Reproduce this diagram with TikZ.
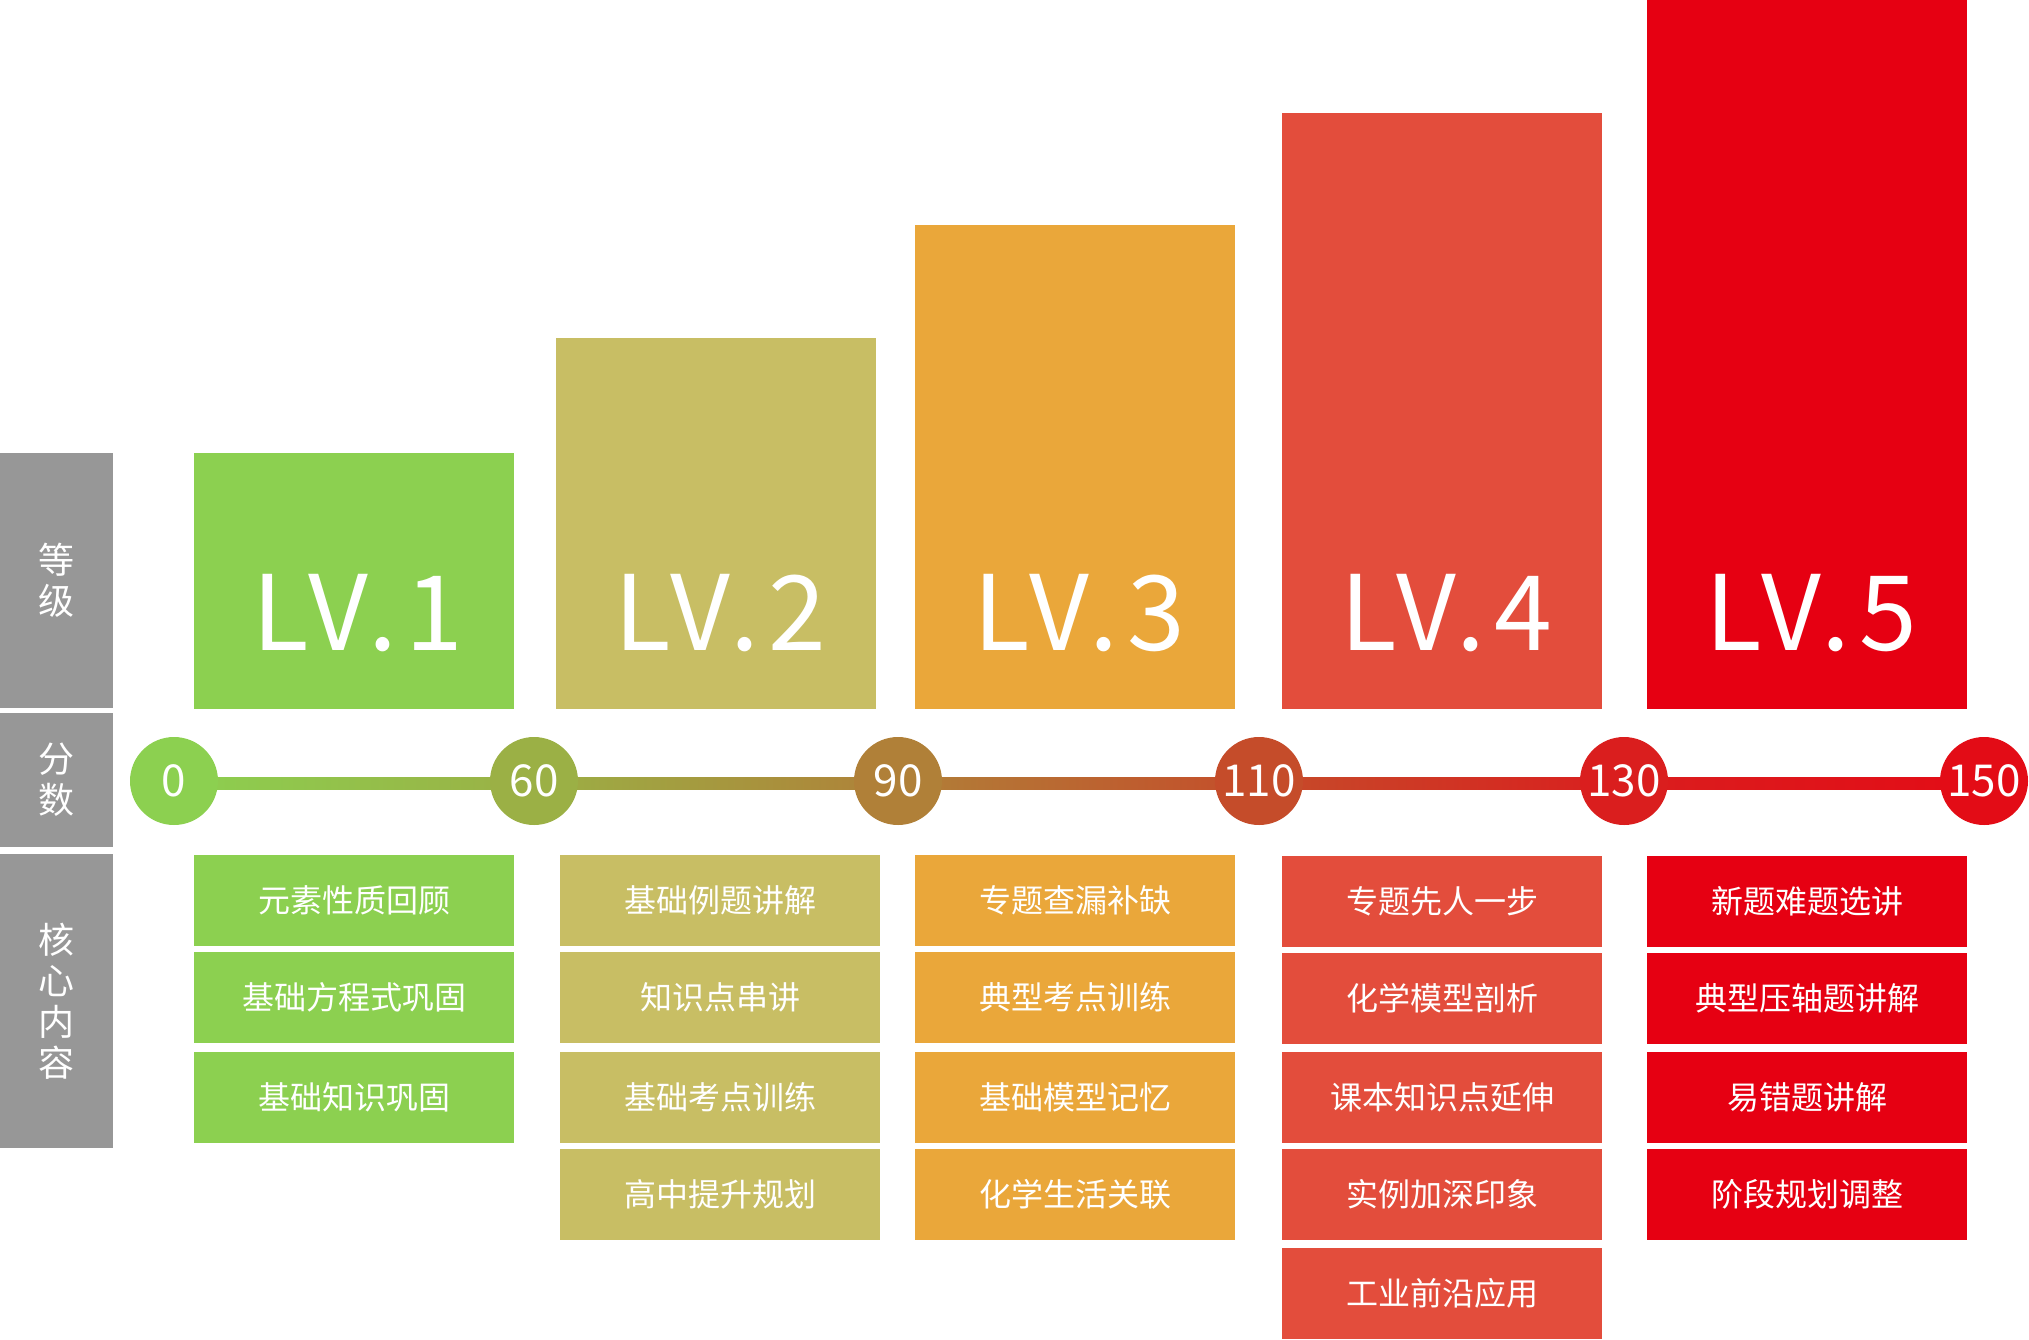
\documentclass[tikz,border=0pt]{standalone}
\usepackage{fontspec}
\newfontfamily\cjk{Noto Sans CJK SC}
\newfontfamily\cjklv[LetterSpace=8]{Noto Sans CJK SC}
\usetikzlibrary{backgrounds,calc}
\definecolor{cgray}{HTML}{979797}
\definecolor{cA}{HTML}{8CD050}
\definecolor{cB}{HTML}{C8BE64}
\definecolor{cC}{HTML}{EAA73A}
\definecolor{cD}{HTML}{E34D3C}
\definecolor{cE}{HTML}{E60012}
\definecolor{k0}{HTML}{8CD050}
\definecolor{k1}{HTML}{9BB045}
\definecolor{k2}{HTML}{B08038}
\definecolor{k3}{HTML}{C54C2A}
\definecolor{k4}{HTML}{DA1E1E}
\definecolor{k5}{HTML}{E30C16}
\begin{document}
\begin{tikzpicture}[x=1pt,y=-1pt,
  flatbox/.style={rectangle, inner sep=0pt, draw=none, minimum width=320pt},
  graybox/.style={rectangle, inner sep=0pt, draw=none, fill=cgray, minimum width=113pt,
    text=white, align=center, font={\cjk\fontsize{36}{41}\selectfont}},
  lvtext/.style={anchor=base, inner sep=0pt, text=white, font={\cjklv\fontsize{104}{110}\selectfont}},
  itembox/.style={rectangle, inner sep=0pt, draw=none, minimum width=320pt, minimum height=91pt,
    text=white, font={\cjk\fontsize{32}{38}\selectfont}},
  score/.style={circle, inner sep=0pt, minimum size=88pt, draw=none, text=white,
    font={\cjk\fontsize{44}{50}\selectfont}}]
\useasboundingbox (0,0) rectangle (2029,1339);

% left labels
\node[graybox, minimum height=255pt] (g1) at (56.5,580.5) {等\\级};
\node[graybox, minimum height=134pt] (g2) at (56.5,780) {分\\数};
\node[graybox, minimum height=294pt] (g3) at (56.5,1001) {核\\心\\内\\容};

% level boxes
\node[flatbox, fill=cA, minimum height=256pt] (lv1) at (354,581) {};
\node[flatbox, fill=cB, minimum height=371pt] (lv2) at (716,523.5) {};
\node[flatbox, fill=cC, minimum height=484pt] (lv3) at (1075,467) {};
\node[flatbox, fill=cD, minimum height=596pt] (lv4) at (1442,411) {};
\node[flatbox, fill=cE, minimum height=709pt] (lv5) at (1807,354.5) {};
\node[lvtext] (lv1t) at (358,650) {LV.1};
\node[lvtext] (lv2t) at (720,650) {LV.2};
\node[lvtext] (lv3t) at (1079,650) {LV.3};
\node[lvtext] (lv4t) at (1446,650) {LV.4};
\node[lvtext] (lv5t) at (1811,650) {LV.5};

% score circles
\node[score, fill=k0] (s0) at (174,781) {0};
\node[score, fill=k1] (s1) at (534,781) {60};
\node[score, fill=k2] (s2) at (898,781) {90};
\node[score, fill=k3] (s3) at (1259,781) {110};
\node[score, fill=k4] (s4) at (1624,781) {130};
\node[score, fill=k5] (s5) at (1984,781) {150};

\begin{scope}[on background layer]
\shade[left color=k0, right color=k1] ($(s0.center)+(0,-4)$) rectangle ($(s1.center)+(0,8)$);
\shade[left color=k1, right color=k2] ($(s1.center)+(0,-4)$) rectangle ($(s2.center)+(0,8)$);
\shade[left color=k2, right color=k3] ($(s2.center)+(0,-4)$) rectangle ($(s3.center)+(0,8)$);
\shade[left color=k3, right color=k4] ($(s3.center)+(0,-4)$) rectangle ($(s4.center)+(0,8)$);
\shade[left color=k4, right color=k5] ($(s4.center)+(0,-4)$) rectangle ($(s5.center)+(0,8)$);
\end{scope}

% content boxes
\node[itembox, fill=cA] (a1) at (354,900.5) {元素性质回顾};
\node[itembox, fill=cA] (a2) at (354,997.5) {基础方程式巩固};
\node[itembox, fill=cA] (a3) at (354,1097) {基础知识巩固};

\node[itembox, fill=cB] (b1) at (720,900.5) {基础例题讲解};
\node[itembox, fill=cB] (b2) at (720,997.5) {知识点串讲};
\node[itembox, fill=cB] (b3) at (720,1097) {基础考点训练};
\node[itembox, fill=cB] (b4) at (720,1194.5) {高中提升规划};

\node[itembox, fill=cC] (c1) at (1075,900.5) {专题查漏补缺};
\node[itembox, fill=cC] (c2) at (1075,997.5) {典型考点训练};
\node[itembox, fill=cC] (c3) at (1075,1097) {基础模型记忆};
\node[itembox, fill=cC] (c4) at (1075,1194.5) {化学生活关联};

\node[itembox, fill=cD] (d1) at (1442,901.5) {专题先人一步};
\node[itembox, fill=cD] (d2) at (1442,998.5) {化学模型剖析};
\node[itembox, fill=cD] (d3) at (1442,1097.5) {课本知识点延伸};
\node[itembox, fill=cD] (d4) at (1442,1194.5) {实例加深印象};
\node[itembox, fill=cD] (d5) at (1442,1293.5) {工业前沿应用};

\node[itembox, fill=cE] (e1) at (1807,901.5) {新题难题选讲};
\node[itembox, fill=cE] (e2) at (1807,998.5) {典型压轴题讲解};
\node[itembox, fill=cE] (e3) at (1807,1097.5) {易错题讲解};
\node[itembox, fill=cE] (e4) at (1807,1194.5) {阶段规划调整};
\end{tikzpicture}
\end{document}
